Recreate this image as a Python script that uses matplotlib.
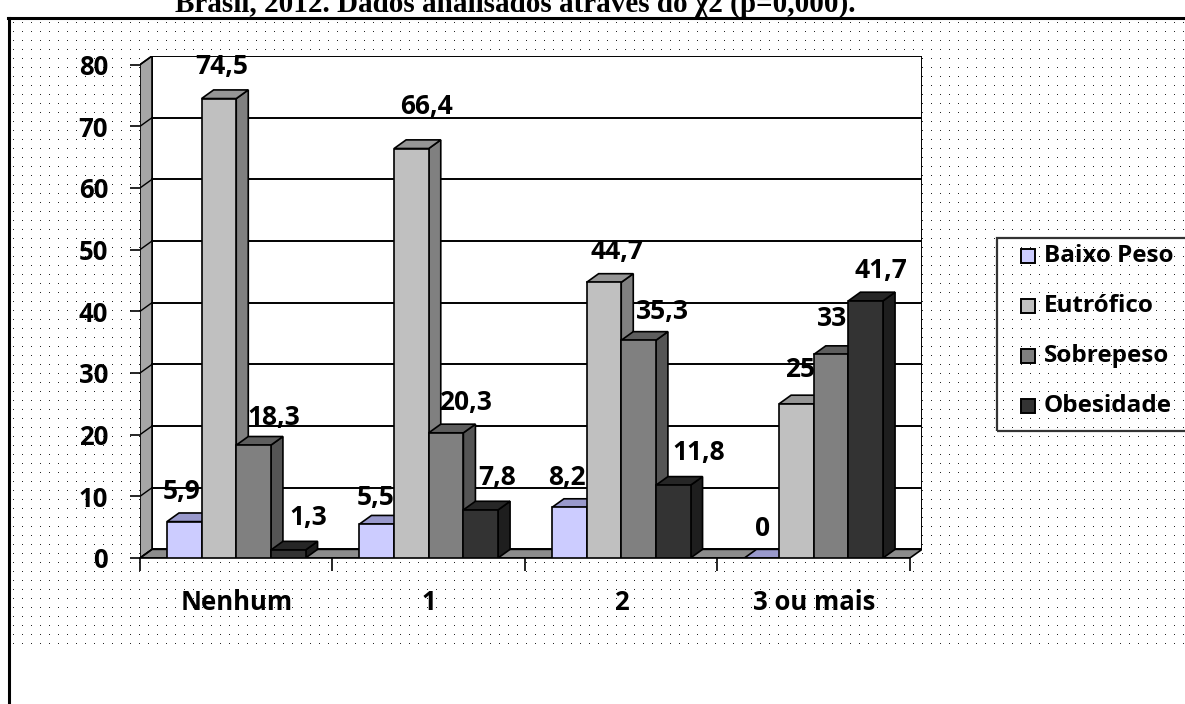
import numpy as np
import matplotlib.pyplot as plt
from matplotlib.patches import Polygon, Rectangle
from matplotlib.lines import Line2D

# dados: percentuais por número de refeições
categorias = ['Nenhum', '1', '2', '3 ou mais']
series = ['Baixo Peso', 'Eutrófico', 'Sobrepeso', 'Obesidade']
baixo_peso = [5.9, 5.5, 8.2, 0]
eutrofico = [74.5, 66.4, 44.7, 25]
sobrepeso = [18.3, 20.3, 35.3, 33]
obesidade = [1.3, 7.8, 11.8, 41.7]
y_ticks = [0, 10, 20, 30, 40, 50, 60, 70, 80]
titulo = 'Brasil, 2012. Dados analisados através do χ2 (p=0,000).'

valores = [baixo_peso, eutrofico, sobrepeso, obesidade]

# cores das faces (frente, topo, lado)
cor_frente = ['#CCCCFF', '#C0C0C0', '#808080', '#333333']
cor_topo = ['#9999CC', '#959595', '#5E5E5E', '#262626']
cor_lado = ['#8080B3', '#808080', '#555555', '#1E1E1E']

# deslocamento dos rótulos (pixels) em relação ao centro do topo
rot_dx = [[-3, 3, 20, 20], [-1, 15, 19, 16], [-2, 13, 24, 26], [1, 4, 1, 15]]
rot_dy = [[30, 32, 28, 32], [27, 42, 30, 32], [30, 31, 29, 33], [30, 34, 36, 30]]

plt.rcParams['font.family'] = ['Open Sans', 'DejaVu Sans']
plt.rcParams['font.weight'] = 'bold'

W_FIG, H_FIG = 1185, 704
fig = plt.figure(figsize=(W_FIG / 100, H_FIG / 100), dpi=100)


def fx(px):
    return px / W_FIG


def fy(py):
    return 1 - py / H_FIG


# fundo pontilhado da área do gráfico
fundo = np.zeros((H_FIG, W_FIG, 4))
for yy in range(22, 652, 9):
    fundo[yy, 13::9] = (0.15, 0.15, 0.15, 1.0)
fig.figimage(fundo, xo=0, yo=0, origin='upper', zorder=-1)

# bordas da página
fig.add_artist(Line2D([fx(8), 1], [fy(18), fy(18)], transform=fig.transFigure,
                      color='black', lw=2.2))
fig.add_artist(Line2D([fx(9), fx(9)], [fy(18), 0], transform=fig.transFigure,
                      color='black', lw=2.2))
fig.text(fx(175), fy(12), titulo, family=['Liberation Serif', 'DejaVu Serif'],
         fontsize=21, fontweight='bold', va='baseline', ha='left')

# profundidade 3D em unidades de dados
DX, DY = 0.0625, 1.4
W = 0.18
G = (1 - 4 * W) / 2
n_cat = len(categorias)

ax = fig.add_axes([fx(140), fy(558), fx(922) - fx(140), fy(56) - fy(558)])
ax.set_xlim(0, n_cat + DX)
ax.set_ylim(0, y_ticks[-1] + DY)
ax.patch.set_visible(False)
for s in ax.spines.values():
    s.set_visible(False)

# parede do fundo, parede lateral e piso
ax.add_patch(Rectangle((DX, DY), n_cat, y_ticks[-1], facecolor='white',
                       edgecolor='black', lw=1.4, zorder=1))
ax.add_patch(Polygon([(0, 0), (0, y_ticks[-1]), (DX, y_ticks[-1] + DY), (DX, DY)],
                     closed=True, facecolor='#A6A6A6', edgecolor='black', lw=1.2, zorder=1))
ax.add_patch(Polygon([(0, 0), (n_cat, 0), (n_cat + DX, DY), (DX, DY)],
                     closed=True, facecolor='#8C8C8C', edgecolor='black', lw=1.2, zorder=1))
for v in y_ticks[1:-1]:
    ax.plot([DX, n_cat + DX], [v + DY, v + DY], color='black', lw=1.4, zorder=1.5)
for v in y_ticks:
    ax.plot([0, DX], [v, v + DY], color='black', lw=1.0, zorder=1.5)

# barras 3D, da esquerda para a direita
z = 2
for i in range(n_cat):
    for j, serie in enumerate(valores):
        v = serie[i]
        x0 = i + G + j * W
        lado = [(x0 + W, 0), (x0 + W + DX, DY), (x0 + W + DX, v + DY), (x0 + W, v)]
        topo = [(x0, v), (x0 + W, v), (x0 + W + DX, v + DY), (x0 + DX, v + DY)]
        ax.add_patch(Polygon(lado, closed=True, facecolor=cor_lado[j],
                             edgecolor='black', lw=1.2, zorder=z))
        ax.add_patch(Polygon(topo, closed=True, facecolor=cor_topo[j],
                             edgecolor='black', lw=1.2, zorder=z))
        ax.bar(x0, v, width=W, align='edge', color=cor_frente[j],
               edgecolor='black', lw=1.2, zorder=z + 0.001)
        z += 0.01

for i in range(n_cat):
    for j, serie in enumerate(valores):
        v = serie[i]
        x0 = i + G + j * W
        txt = f'{v:g}'.replace('.', ',')
        ax.annotate(txt, (x0 + W / 2, v), xytext=(rot_dx[i][j], rot_dy[i][j]),
                    textcoords='offset pixels', ha='center', va='center',
                    fontsize=19, fontweight='bold', zorder=5)

# eixos
ax.set_yticks(y_ticks)
ax.set_yticklabels([str(t) for t in y_ticks])
ax.tick_params(axis='y', length=7, width=1.2, pad=16, labelsize=18.5)
ax.set_xticks(range(n_cat + 1))
ax.set_xticklabels([])
ax.tick_params(axis='x', which='major', length=9, width=1.2, direction='out')
ax.set_xticks([i + 0.5 for i in range(n_cat)], minor=True)
ax.set_xticklabels(categorias, minor=True)
ax.tick_params(axis='x', which='minor', length=0, pad=22, labelsize=18.5)
ax.plot([0, n_cat], [0, 0], color='black', lw=1.2, zorder=1.6, clip_on=False)

# legenda
fig.add_artist(Rectangle((fx(997), fy(431)), fx(1200) - fx(997), fy(238) - fy(431),
                         transform=fig.transFigure, facecolor='none',
                         edgecolor='#333333', lw=1.6))
for j, nome in enumerate(series):
    yc = 256 + 50 * j
    fig.add_artist(Rectangle((fx(1021), fy(yc + 7)), fx(14), 14 / H_FIG,
                             transform=fig.transFigure, facecolor=cor_frente[j],
                             edgecolor='black', lw=1.4))
    fig.text(fx(1044), fy(yc), nome, fontsize=17.5, fontweight='bold',
             va='center', ha='left')

fig.savefig('out.png', dpi=100)
